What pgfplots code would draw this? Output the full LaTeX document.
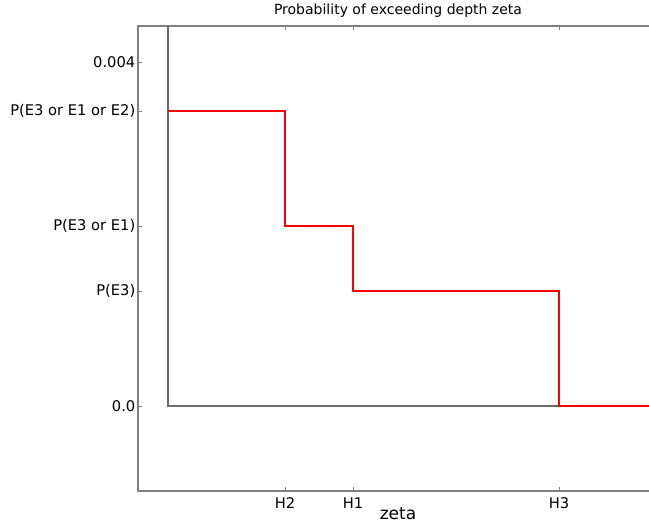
\documentclass[border=0pt]{standalone}
\usepackage{pgfplots}
\pgfplotsset{compat=1.18}
\usepackage{fontspec}
\setmainfont{DejaVu Sans}
\begin{document}
\begin{tikzpicture}
\begin{axis}[
  scale only axis, width=520bp, height=465bp,
  xmin=0, xmax=520, ymin=-0.000988, ymax=0.004419,
  xtick={147,215,421}, xticklabels={H2,H1,H3},
  ytick={0,0.001337,0.002093,0.003430,0.004},
  yticklabels={0.0,P(E3),P(E3 or E1),P(E3 or E1 or E2),0.004},
  scaled y ticks=false,
  tick align=inside, major tick length=4bp,
  axis line style={draw=gray, line width=1.2bp},
  tick style={gray, line width=0.8bp},
  ticklabel style={font=\fontsize{14.7bp}{17bp}\selectfont, text=black},
  yticklabel style={inner xsep=2.5bp},
  xticklabel style={anchor=base, yshift=-17bp},
  title={Probability of exceeding depth zeta},
  title style={font=\fontsize{14bp}{17bp}\selectfont, at={(0.5,1)}, anchor=base, yshift=6bp},
  xlabel={zeta},
  xlabel style={font=\fontsize{17bp}{20bp}\selectfont, inner sep=0pt, at={(0.5,0)}, anchor=base, yshift=-28.5bp},
]
\addplot[draw=gray!85!black, line width=1.5bp] coordinates {(30,0.004419) (30,0) (520,0)};
\addplot[draw=red, line width=1.8bp] coordinates {(30,0.00343) (147,0.00343) (147,0.002093) (215,0.002093) (215,0.001337) (421,0.001337) (421,0) (520,0)};
\coordinate (O) at (rel axis cs:0,0);
\end{axis}
\pgfresetboundingbox
\useasboundingbox (O) ++(-138bp,-33bp) rectangle ++(649bp,524bp);
\end{tikzpicture}
\end{document}
